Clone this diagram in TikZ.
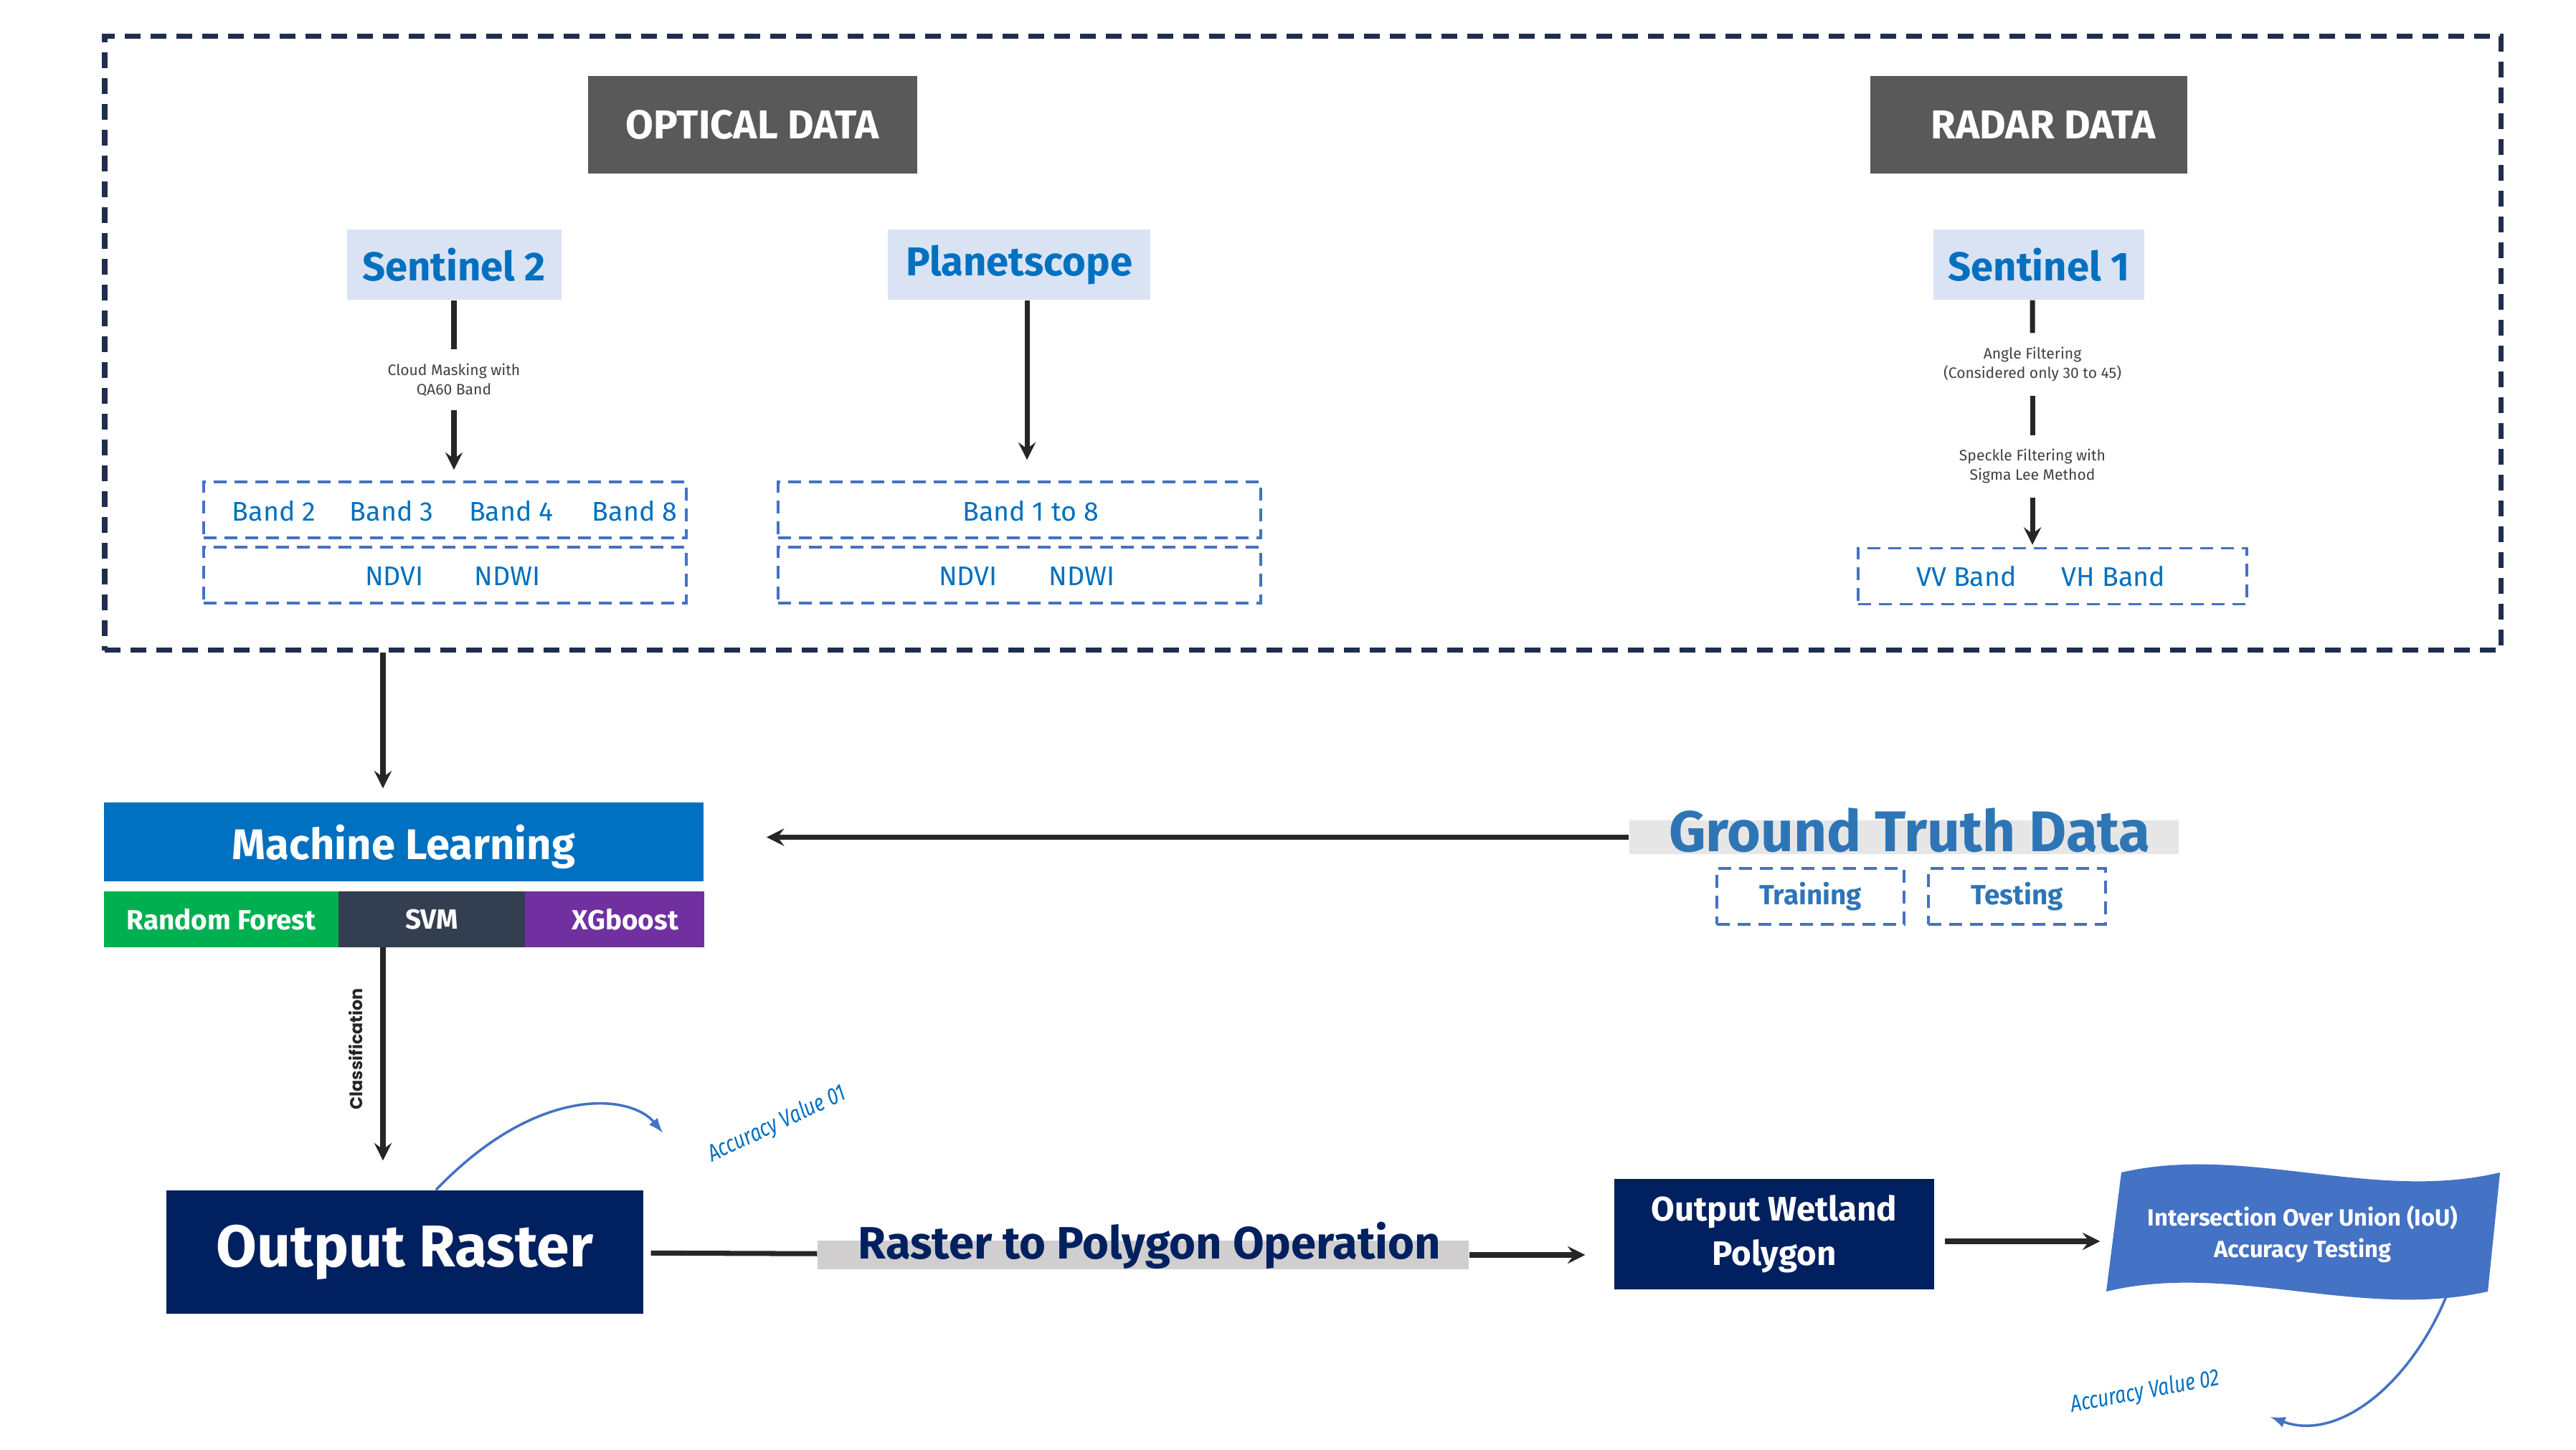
\documentclass[tikz,border=0pt]{standalone}
\usepackage{fontspec}
\setmainfont{Fira Sans}
\newfontfamily\widefont{Poppins}
\newfontfamily\condfont{Fira Sans}[FakeStretch = 0.8]
\usepackage{tikz}
\usetikzlibrary{arrows,positioning}

\definecolor{framenavy}{HTML}{1F2D4F}
\definecolor{titlegray}{HTML}{595959}
\definecolor{sensorbg}{HTML}{DAE3F3}
\definecolor{textblue}{HTML}{0070C0}
\definecolor{dashblue}{HTML}{4472C4}
\definecolor{notegray}{HTML}{404040}
\definecolor{rfgreen}{HTML}{00B050}
\definecolor{svmslate}{HTML}{333F50}
\definecolor{xgpurple}{HTML}{7030A0}
\definecolor{navy}{HTML}{002060}
\definecolor{opgray}{HTML}{D0CECE}
\definecolor{gtgray}{HTML}{E7E6E6}
\definecolor{gtblue}{HTML}{2E75B6}
\definecolor{arrowblack}{HTML}{262626}

\begin{document}
\begin{tikzpicture}
\useasboundingbox (0,0) rectangle (35.92,20.21);
%\draw[very thin, color = gray](0, 0) grid (36, 20);
\tikzstyle{databox} = [draw = framenavy, line width = 2pt, dash pattern = on 0.22cm off 0.14cm,
  rectangle, minimum width = 33.41cm, minimum height = 8.56cm];
\tikzstyle{title} = [rectangle, fill = titlegray, text = white, minimum height = 1.36cm,
  font = \bfseries\fontsize{16}{19}\selectfont];
\tikzstyle{sensor} = [rectangle, fill = sensorbg, text = textblue, minimum height = 0.98cm,
  font = \bfseries\fontsize{16}{19}\selectfont];
\tikzstyle{bandbox} = [draw = dashblue, line width = 1pt, dash pattern = on 0.18cm off 0.11cm,
  rectangle, minimum height = 0.78cm];
\tikzstyle{bandtxt} = [text = textblue, font = \fontsize{10.7}{13}\selectfont];
\tikzstyle{note} = [align = center, text = notegray, inner sep = 0.19cm,
  font = \fontsize{6}{7.7}\selectfont];
\tikzstyle{algo} = [rectangle, text = white, minimum height = 0.78cm, outer sep = 0pt,
  font = \bfseries\fontsize{11}{13}\selectfont];
\tikzstyle{navybox} = [rectangle, fill = navy, text = white, align = center];
\tikzstyle{acclbl} = [text = textblue, font = \condfont\itshape\fontsize{9.4}{11}\selectfont];
\tikzstyle{link} = [draw = arrowblack, line width = 2pt]
\tikzstyle{line} = [draw = arrowblack, -stealth, line width = 2pt]
\tikzstyle{acc} = [draw = dashblue, -latex, line width = 1pt]

% input data
\node [databox] at (18.165, 15.42) (data) {};
\node [title, minimum width = 4.59cm] at (10.49, 18.47) (optical) {OPTICAL DATA};
\node [title, minimum width = 4.42cm] at (28.29, 18.47) (radar) {\hspace*{0.4cm}RADAR DATA};
\node [sensor, minimum width = 2.99cm] at (6.33, 16.52) (sentinel2) {Sentinel 2};
\node [sensor, minimum width = 3.66cm] at (14.21, 16.52) (planet) {Planetscope};
\node [sensor, minimum width = 2.94cm] at (28.43, 16.52) (sentinel1) {Sentinel 1};

\node [bandbox, minimum width = 6.73cm] at (6.205, 13.10) (s2bands) {};
\node [bandbox, minimum width = 6.73cm] at (6.205, 12.19) (s2index) {};
\node [bandbox, minimum width = 6.73cm] at (14.215, 13.10) (pbands) {};
\node [bandbox, minimum width = 6.73cm] at (14.215, 12.19) (pindex) {};
\node [bandbox, minimum width = 5.42cm] at (28.62, 12.175) (rbands) {};

\node [bandtxt] at (3.82, 13.08) (band2) {Band 2};
\node [bandtxt] at (5.46, 13.08) (band3) {Band 3};
\node [bandtxt] at (7.13, 13.08) (band4) {Band 4};
\node [bandtxt] at (8.85, 13.08) (band8) {Band 8};
\node [bandtxt] at (5.50, 12.17) (s2ndvi) {NDVI};
\node [bandtxt] at (7.08, 12.17) (s2ndwi) {NDWI};
\node [bandtxt] at (14.37, 13.08) (band18) {Band 1 to 8};
\node [bandtxt] at (13.50, 12.17) (pndvi) {NDVI};
\node [bandtxt] at (15.085, 12.17) (pndwi) {NDWI};
\node [bandtxt] at (27.42, 12.17) (vv) {VV Band};
\node [bandtxt] at (29.47, 12.17) (vh) {VH Band};

\node [note] at (6.33, 14.915) (cloud) {Cloud Masking with \\ QA60 Band};
\node [note] at (28.34, 15.13) (angle) {Angle Filtering \\ (Considered only 30 to 45)};
\node [note] at (28.34, 13.705) (speckle) {Speckle Filtering with \\ Sigma Lee Method};
\path [link] (sentinel2) -- (cloud);
\path [line, shorten >= 0.15cm] (cloud) -- (cloud |- s2bands.north);
\path [line, shorten >= 0.29cm] ([xshift = 1.1mm]planet.south) -- ([xshift = 1.1mm]planet.south |- pbands.north);
\path [link] ([xshift = -0.9mm]sentinel1.south) -- (angle);
\path [link] (angle) -- (speckle);
\path [line, shorten >= 0.03cm] (speckle) -- (speckle |- rbands.north);

% machine learning
\node [rectangle, fill = textblue, text = white, minimum width = 8.365cm, minimum height = 1.10cm,
  text depth = 0pt, font = \bfseries\fontsize{17}{20}\selectfont] at (5.63, 8.47) (ml) {Machine Learning};
\node [algo, fill = rfgreen, minimum width = 3.27cm] at (3.085, 7.39) (rf) {Random Forest};
\node [algo, fill = svmslate, minimum width = 2.60cm, right = 0pt of rf] (svm) {SVM};
\node [algo, fill = xgpurple, minimum width = 2.495cm, right = 0pt of svm] (xg) {\hspace*{0.3cm}XGboost};
\coordinate (feed) at (5.34, 0);
\path [line, shorten >= 0.19cm] (data.south -| feed) -- (ml.north -| feed);

% ground truth
\node [rectangle, fill = gtgray, minimum width = 7.66cm, minimum height = 0.47cm] at (26.55, 8.535) (gt) {};
\node [anchor = base, text = gtblue, font = \bfseries\fontsize{22.8}{26}\selectfont] at (26.63, 8.335) (gttitle) {Ground Truth Data};
\node [bandbox, minimum width = 2.61cm, text = gtblue, font = \bfseries\fontsize{11}{13}\selectfont] at (25.245, 7.71) (train) {Training};
\node [bandbox, minimum width = 2.47cm, text = gtblue, font = \bfseries\fontsize{11}{13}\selectfont] at (28.125, 7.71) (test) {Testing};
\path [line, shorten >= 0.87cm] (gt.west) -- (gt.west -| ml.east);

% outputs
\node [navybox, minimum width = 6.65cm, minimum height = 1.72cm,
  font = \bfseries\fontsize{23.4}{27}\selectfont] at (5.645, 2.75) (raster) {Output Raster};
\path [line, shorten >= 0.41cm] (rf.south -| feed) -- (raster.north -| feed);
\node [rotate = 90, text = arrowblack, font = \widefont\bfseries\fontsize{6.8}{8}\selectfont] at (4.96, 5.58) (classlbl) {Classification};

\coordinate (acc1end) at (9.24, 4.415);
\path [acc] ([xshift = 0.435cm]raster.north) .. controls (7.5, 5.1) and (8.8, 4.95) .. (acc1end);
\node [acclbl, rotate = 25, inner sep = 0pt] at (10.84, 4.53) (acc1) {Accuracy Value 01};

\node [rectangle, fill = opgray, minimum width = 9.08cm, minimum height = 0.40cm] at (15.94, 2.71) (r2p) {};
\node [anchor = base, text = navy, font = \bfseries\fontsize{18}{22}\selectfont] at (16.03, 2.65) (r2ptxt) {Raster to Polygon Operation};
\path [link, shorten <= 0.1cm] (raster) -- (r2p);

\node [navybox, minimum width = 4.46cm, minimum height = 1.535cm,
  font = \bfseries\fontsize{13.5}{17.6}\selectfont] at (24.74, 3.0) (wetland) {Output Wetland \\ Polygon};
\path [line, shorten >= 0.4cm] (r2p.east) -- (r2p.east -| wetland.west);

\fill [dashblue] (29.58, 3.86) .. controls (31.3, 4.26) and (33.1, 3.44) .. (34.86, 3.86)
  -- (34.69, 2.20) .. controls (32.9, 1.80) and (31.1, 2.62) .. (29.37, 2.20) -- cycle;
\node [align = center, text = white, minimum width = 5.32cm,
  font = \bfseries\fontsize{9.3}{12.5}\selectfont] at (32.11, 3.0) (iou) {Intersection Over Union (IoU) \\ Accuracy Testing};
\path [line, shorten <= 0.14cm, shorten >= 0.16cm] ([yshift = -1mm]wetland.east) -- ([yshift = -1mm]iou.west);

\coordinate (acc2end) at (31.66, 0.45);
\path [acc] (34.11, 2.13) .. controls (33.6, 0.9) and (32.6, 0.1) .. (acc2end);
\node [acclbl, rotate = 10.5, inner sep = 0pt] at (29.91, 0.795) (acc2) {Accuracy Value 02};
\end{tikzpicture}
\end{document}
